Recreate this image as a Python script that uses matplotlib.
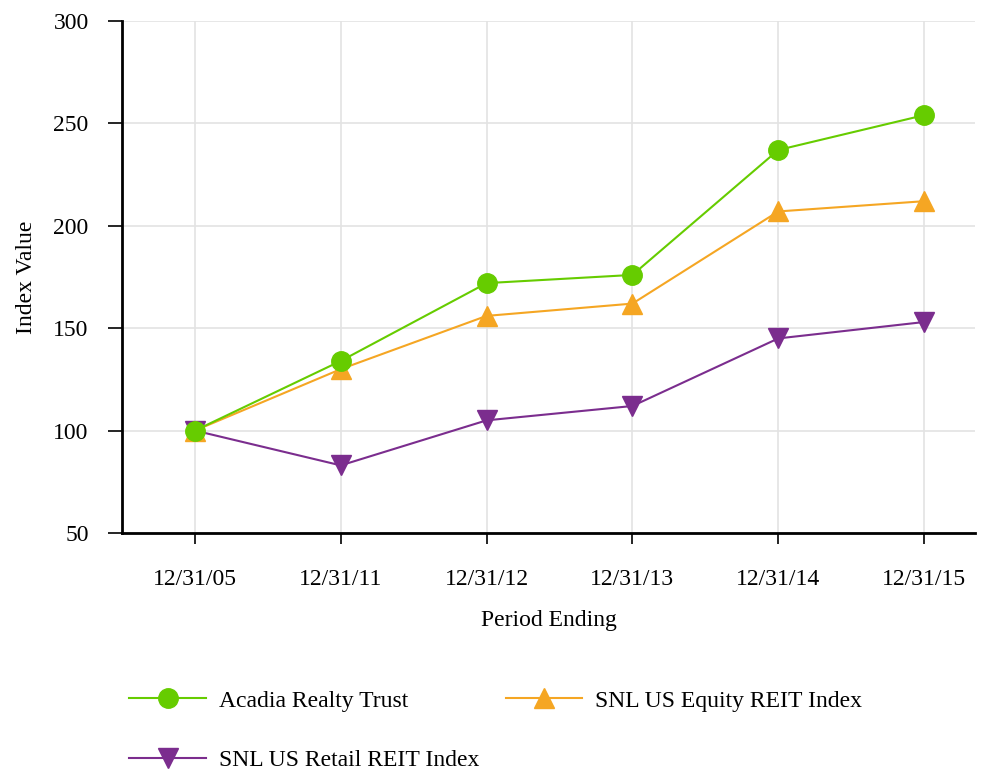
import numpy as np
import matplotlib
matplotlib.use('Agg')
import matplotlib.pyplot as plt

plt.rcParams['font.family'] = ['Liberation Serif', 'DejaVu Serif']

# data
periods = ['12/31/05', '12/31/11', '12/31/12', '12/31/13', '12/31/14', '12/31/15']
acadia = [100, 134, 172, 176, 237, 254]
snl_equity = [100, 130, 156, 162, 207, 212]
snl_retail = [100, 83, 105, 112, 145, 153]

fig = plt.figure(figsize=(9.84, 7.74), dpi=100)
ax = fig.add_axes([0.124, 0.3114, 0.867, 0.6615])

x = np.arange(len(periods))
l1, = ax.plot(x, acadia, color='#66CC00', marker='o', markersize=14, lw=1.5,
              label='Acadia Realty Trust', zorder=5)
l2, = ax.plot(x, snl_equity, color='#F5A623', marker='^', markersize=14, lw=1.5,
              label='SNL US Equity REIT Index', zorder=4)
l3, = ax.plot(x, snl_retail, color='#7B2D8E', marker='v', markersize=14, lw=1.5,
              label='SNL US Retail REIT Index', zorder=3)

ax.set_xlim(-0.5, 5.35)
ax.set_ylim(50, 300)
ax.set_yticks([50, 100, 150, 200, 250, 300])
ax.set_xticks(x)
ax.set_xticklabels(periods)
ax.tick_params(axis='both', labelsize=17, color='black', width=1.2)
ax.tick_params(axis='y', length=10, pad=14)
ax.tick_params(axis='x', length=8, pad=18)

ax.grid(True, color='#e3e3e3', lw=1.2)
ax.set_axisbelow(True)
for side in ['top', 'right']:
    ax.spines[side].set_visible(False)
ax.spines['left'].set_linewidth(2)
ax.spines['bottom'].set_linewidth(2)

ax.set_xlabel('Period Ending', fontsize=17, labelpad=14)
ax.set_ylabel('Index Value', fontsize=17, labelpad=12)

# column-first fill: put equity in the second column of row 1
fig.legend([l1, l3, l2], [l1.get_label(), l3.get_label(), l2.get_label()],
           loc='upper left', bbox_to_anchor=(0.110, 0.136), ncol=2,
           frameon=False, fontsize=17, handlelength=3.25, labelspacing=1.6,
           columnspacing=1.1, handletextpad=0.55)

fig.savefig('out.png', dpi=100)
